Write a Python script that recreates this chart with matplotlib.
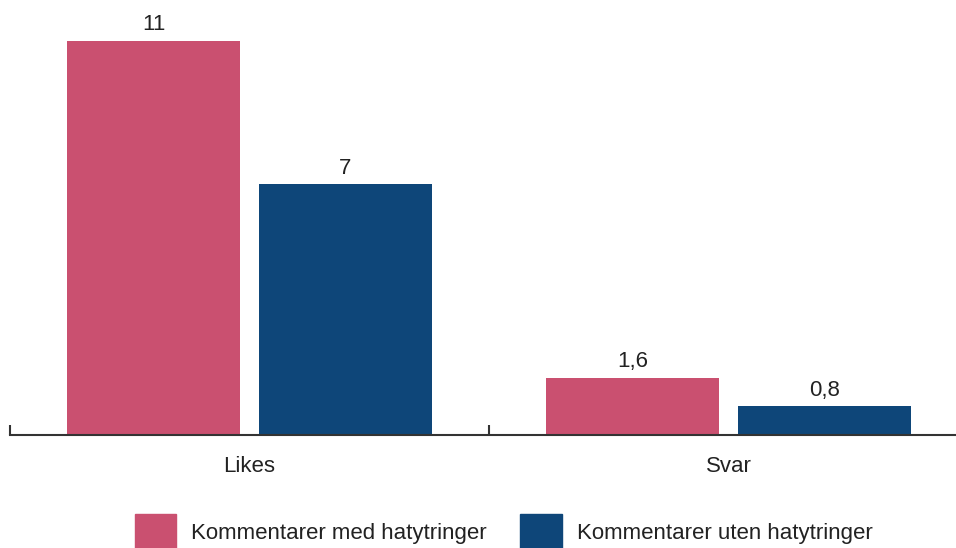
import numpy as np
import matplotlib.pyplot as plt
from matplotlib.patches import Patch

plt.rcParams['font.family'] = ['Liberation Sans', 'DejaVu Sans']

categories = ['Likes', 'Svar']
series_names = ['Kommentarer med hatytringer', 'Kommentarer uten hatytringer']
med_hat = [11, 1.6]
uten_hat = [7, 0.8]
value_labels = [['11', '1,6'], ['7', '0,8']]
colors = ['#CA5070', '#0E4679']

fig = plt.figure(figsize=(9.56, 5.48), dpi=100)
ax = fig.add_axes([0.0105, 0.206, 0.9885, 0.785])

x = np.arange(len(categories))
w = 0.361
off = 0.2
for i, (vals, c) in enumerate(zip([med_hat, uten_hat], colors)):
    pos = x - off if i == 0 else x + off
    bars = ax.bar(pos, vals, width=w, color=c, zorder=2)
    for b, lab in zip(bars, value_labels[i]):
        ax.annotate(lab, (b.get_x() + b.get_width() / 2, b.get_height()),
                    xytext=(0, 4), textcoords='offset points',
                    ha='center', va='bottom', fontsize=16, color='#222222')

ax.set_xlim(-0.5, 1.473)
ax.set_ylim(0, 12)
for s in ['top', 'right', 'left']:
    ax.spines[s].set_visible(False)
ax.spines['bottom'].set_color('#333333')
ax.spines['bottom'].set_linewidth(1.5)
ax.set_yticks([])

ax.set_xticks(x)
ax.set_xticklabels(categories, fontsize=16, color='#222222')
ax.tick_params(axis='x', which='major', length=0, pad=15)
ax.set_xticks([-0.5, 0.5], minor=True)
ax.tick_params(axis='x', which='minor', direction='in', length=7,
               width=1.5, color='#333333')

handles = [Patch(color=c) for c in colors]
fig.legend(handles, series_names, loc='lower center', ncol=2,
           bbox_to_anchor=(0.527, -0.042), frameon=False, fontsize=16,
           handlelength=1.85, handleheight=2.2, handletextpad=0.68,
           columnspacing=1.5, labelcolor='#222222')

fig.savefig('out.png', dpi=100)
